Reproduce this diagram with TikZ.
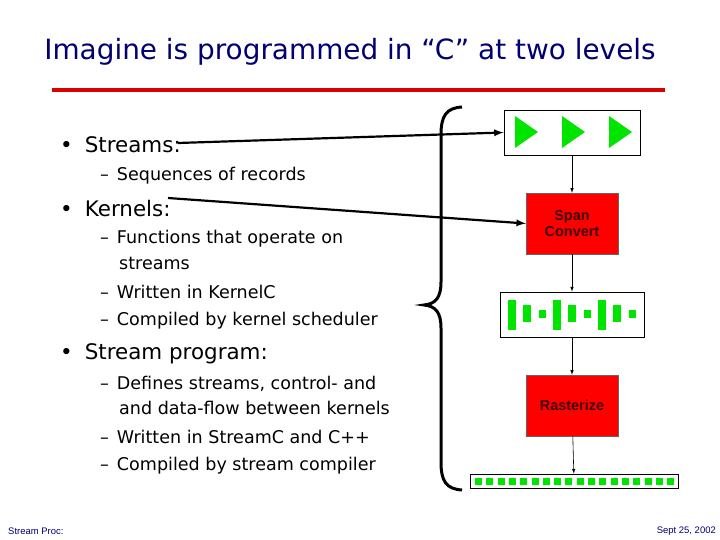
\documentclass[tikz,border=0pt]{standalone}
\usepackage{fontspec}
\setmainfont{DejaVu Sans}
\newfontfamily\arialf{Liberation Sans}
\begin{document}
\begin{tikzpicture}[x=1bp,y=-1bp,
  big/.style={anchor=west,inner sep=0,font=\fontsize{21.5}{24}\selectfont},
  sub/.style={anchor=west,inner sep=0,font=\fontsize{17.6}{20}\selectfont,align=left},
  redbox/.style={draw=black!60,fill=red,minimum width=92bp,minimum height=61bp,font=\arialf\bfseries\fontsize{14.5}{17}\selectfont,text=black!75!red,align=center},
  wbox/.style={draw=black,fill=white,line width=0.9pt},
  flow/.style={-latex,line width=0.6pt},
  pointer/.style={-latex,line width=2.2pt},
  gr/.style={fill=green!90!black,draw=none}]
\useasboundingbox (0,0) rectangle (720,540);
\node[inner sep=0,font=\fontsize{28}{32}\selectfont,text=blue!45!black] (title) at (350,52) {Imagine is programmed in “C” at two levels};
\draw[red!85!black,line width=4bp] (52,90) -- (665,90);
% text
\node[big] (b1) at (60,145) {•\hspace{12bp}Streams:};
\node[sub] (s1) at (100,176) {–\hspace{8bp}Sequences of records};
\node[big] (b2) at (60,209) {•\hspace{12bp}Kernels:};
\node[sub] (s2) at (100,239) {–\hspace{8bp}Functions that operate on};
\node[sub] (s2b) at (119,263) {streams};
\node[sub] (s3) at (100,292) {–\hspace{8bp}Written in KernelC};
\node[sub] (s4) at (100,321) {–\hspace{8bp}Compiled by kernel scheduler};
\node[big] (b3) at (60,354) {•\hspace{12bp}Stream program:};
\node[sub] (s5) at (100,384) {–\hspace{8bp}Defines streams, control- and};
\node[sub] (s5b) at (119,408) {and data-flow between kernels};
\node[sub] (s6) at (100,437) {–\hspace{8bp}Written in StreamC and C++};
\node[sub] (s7) at (100,466) {–\hspace{8bp}Compiled by stream compiler};
\node[anchor=west,inner sep=0,font=\arialf\fontsize{9.5}{11}\selectfont,text=blue!45!black] (f1) at (8,531) {Stream Proc:};
\node[anchor=east,inner sep=0,font=\arialf\fontsize{9.5}{11}\selectfont,text=blue!45!black] (f2) at (716,531) {Sept 25, 2002};
% brace
\draw[line width=3bp] (462,107) .. controls (446,108) and (441,116) .. (441,135) -- (441,282) .. controls (441,297) and (436,304) .. (424,305) .. controls (436,306) and (441,313) .. (441,328) -- (441,462) .. controls (441,481) and (446,489) .. (462,490);
% boxes
\node[wbox,minimum width=136bp,minimum height=45bp] (k1) at (572,132.5) {};
\foreach \x in {515,562,609} \fill[gr] (\x,116) -- (\x+23,132) -- (\x,148) -- cycle;
\node[redbox] (k2) at (572,223.5) {Span\\Convert};
\node[wbox,minimum width=144bp,minimum height=45bp] (k3) at (572,314.5) {};
\foreach \x in {508,553,598} {
  \fill[gr] (\x,300) rectangle (\x+8,330);
  \fill[gr] (\x+15,305) rectangle (\x+23,322);
  \fill[gr] (\x+31,310) rectangle (\x+38,318);}
\node[redbox] (k4) at (572,405.5) {Rasterize};
\node[wbox,minimum width=208bp,minimum height=14bp] (k5) at (574,481) {};
\foreach \i in {0,...,17} \fill[gr] (475+\i*11.3,477.5) rectangle (482+\i*11.3,484.5);
\draw[flow] (k1) -- (k2);
\draw[flow] (k2) -- (k3);
\draw[flow] (k3) -- (k4);
\draw[flow] (k4) -- (k5);
\coordinate (p1) at (178,143);
\coordinate (p2) at (168,198);
\draw[pointer] (p1) -- (k1.west);
\draw[pointer] (p2) -- (k2.west);
\end{tikzpicture}
\end{document}
